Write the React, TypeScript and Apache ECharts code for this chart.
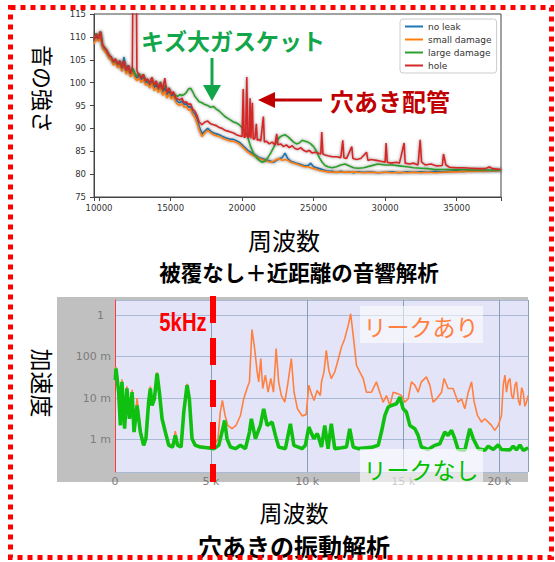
import React, { useEffect, useRef } from 'react';
import * as echarts from 'echarts';

// ---------- Top chart: acoustic analysis (frequency Hz vs sound level) ----------
const topFreq = [
  9650, 9800, 9950, 10100, 10250, 10400, 10550, 10700, 10850, 11000,
  11150, 11300, 11450, 11600, 11750, 11900, 12050, 12200, 12350, 12500,
  12650, 12800, 12950, 13100, 13250, 13400, 13550, 13700, 13850, 14000,
  14150, 14300, 14450, 14600, 14750, 14900, 15050, 15200, 15350, 15500,
  15650, 15800, 15950, 16100, 16250, 16400, 16550, 16700, 16850, 17000,
  17200, 17400, 17600, 17800, 18000, 18200, 18400, 18600, 18800, 19000,
  19200, 19400, 19600, 19800, 20000, 20200, 20400, 20600, 20800, 21000,
  21200, 21400, 21600, 21800, 22000, 22200, 22400, 22600, 22800, 23000,
  23200, 23400, 23600, 23800, 24000, 24200, 24400, 24600, 24800, 25000,
  25200, 25400, 25600, 25800, 26000, 26300, 26600, 26900, 27200, 27500,
  27800, 28100, 28500, 29000, 29500, 30000, 30500, 31000, 31500, 32000,
  32500, 33000, 33500, 34000, 34500, 35000, 35500, 36000, 37000, 38100,
];

const noLeakLevel = [
  109.0, 110.2, 109.5, 111.0, 108.0, 107.4, 106.9, 105.8, 105.6, 104.4,
  105.0, 103.8, 104.6, 103.0, 105.6, 102.4, 103.8, 101.8, 103.0, 101.6,
  101.0, 101.6, 100.6, 101.4, 100.0, 100.4, 99.4, 100.6, 98.8, 99.6,
  98.4, 99.6, 97.8, 98.8, 97.2, 98.2, 97.0, 97.6, 96.4, 95.8,
  95.6, 96.0, 95.2, 95.4, 94.6, 94.8, 93.6, 93.2, 92.2, 90.4,
  88.8, 89.4, 90.0, 89.4, 89.0, 88.8, 88.6, 88.3, 88.0, 87.8,
  87.6, 87.6, 87.3, 87.0, 86.4, 85.8, 85.2, 84.8, 84.4, 84.0,
  83.6, 83.4, 83.2, 83.0, 82.8, 82.6, 83.0, 83.4, 83.6, 84.6,
  83.4, 82.8, 82.6, 82.4, 82.2, 82.0, 81.8, 81.8, 82.4, 81.6,
  81.4, 81.2, 81.0, 80.8, 80.6, 80.6, 80.4, 80.6, 80.4, 80.5,
  80.3, 80.5, 80.4, 80.5, 80.3, 80.4, 80.5, 80.3, 80.5, 80.4,
  80.5, 80.4, 80.6, 80.5, 80.6, 80.7, 80.6, 80.8, 80.7, 80.8,
];

const smallDamageLevel = [
  108.4, 109.6, 109.0, 110.4, 107.4, 106.8, 106.2, 105.2, 105.0, 103.8,
  104.4, 103.2, 104.0, 102.4, 104.6, 101.8, 103.0, 101.2, 102.4, 101.0,
  100.4, 101.0, 100.0, 100.8, 99.4, 99.8, 98.8, 100.0, 98.2, 99.0,
  97.8, 99.0, 97.2, 98.2, 96.6, 97.6, 96.4, 97.0, 95.8, 95.2,
  95.0, 95.4, 94.6, 94.8, 94.0, 94.2, 93.0, 92.4, 91.2, 89.6,
  88.2, 89.0, 89.6, 89.0, 88.6, 88.4, 88.2, 87.9, 87.6, 87.4,
  87.2, 87.2, 86.9, 86.6, 86.0, 85.4, 84.8, 84.4, 84.0, 83.8,
  83.4, 83.2, 83.0, 82.8, 82.6, 82.8, 83.2, 83.4, 83.0, 83.2,
  83.0, 82.6, 82.4, 82.2, 82.0, 81.8, 81.6, 81.6, 81.4, 81.2,
  81.0, 80.8, 80.7, 80.6, 80.5, 80.4, 80.5, 80.4, 80.5, 80.4,
  80.5, 80.4, 80.3, 80.4, 80.3, 80.4, 80.3, 80.4, 80.3, 80.4,
  80.3, 80.4, 80.3, 80.4, 80.5, 80.5, 80.6, 80.6, 80.7, 80.8,
];

const largeDamageLevel = [
  109.6, 110.8, 109.8, 111.2, 108.2, 107.6, 107.0, 106.0, 105.6, 104.6,
  105.0, 104.0, 104.8, 103.2, 104.4, 102.8, 103.6, 102.0, 103.2, 102.2,
  101.4, 102.0, 101.2, 101.8, 100.6, 100.6, 99.8, 101.0, 99.6, 100.0,
  99.0, 100.2, 98.6, 99.4, 98.2, 98.8, 97.6, 97.8, 97.2, 97.0,
  97.4, 97.2, 97.4, 97.8, 98.6, 98.8, 98.0, 97.0, 96.4, 95.8,
  95.6, 95.2, 95.0, 94.6, 94.8, 94.2, 93.8, 93.2, 92.6, 92.2,
  91.8, 91.4, 91.2, 90.8, 90.2, 89.4, 88.0, 86.0, 84.6, 83.6,
  83.0, 82.6, 82.8, 83.6, 84.6, 85.8, 87.0, 88.0, 88.4, 88.6,
  88.2, 87.6, 87.0, 86.6, 86.8, 87.4, 87.2, 87.0, 86.6, 86.0,
  85.0, 83.6, 82.6, 81.9, 81.6, 81.4, 81.6, 82.0, 82.2, 81.8,
  81.4, 81.3, 81.4, 81.8, 82.2, 82.0, 82.0, 81.8, 81.6, 81.4,
  81.3, 81.2, 81.0, 81.0, 81.0, 81.0, 81.0, 80.9, 80.9, 80.9,
];

// hole series has its own frequency points because of narrow resonance spikes
const holePoints: [number, number][] = [
  [9650, 109.4], [9800, 110.6], [9950, 109.6], [10100, 111.2], [10250, 108.2], [10400, 107.6], [10550, 107.0], [10700, 106.0], [10850, 105.6], [11000, 104.6],
  [11150, 105.2], [11300, 104.0], [11450, 104.8], [11600, 103.2], [11750, 104.8], [11900, 102.6], [12050, 103.8], [12200, 102.0], [12330, 103.4], [12360, 117], [12620, 117], [12650, 102.6],
  [12800, 101.6], [12950, 101.0], [13100, 101.8], [13250, 100.4], [13400, 100.8], [13550, 99.8], [13700, 101.2], [13850, 99.4], [14000, 100.4],
  [14150, 98.8], [14300, 100.0], [14450, 98.4], [14600, 101.0], [14750, 97.8], [14900, 98.8], [15050, 97.4], [15200, 98.0], [15350, 96.8], [15500, 96.4],
  [15650, 96.2], [15800, 96.6], [15950, 95.6], [16100, 95.8], [16250, 95.2], [16400, 95.4], [16550, 94.2], [16700, 93.8], [16850, 92.8], [17000, 91.4],
  [17200, 90.8], [17400, 91.4], [17600, 91.6], [17800, 91.0], [18000, 90.8], [18200, 90.6], [18400, 90.2], [18600, 90.0], [18800, 89.6], [19000, 89.4],
  [19200, 89.2], [19400, 89.0], [19600, 88.6], [19800, 88.4], [20000, 88.2], [20080, 98.6], [20140, 88.0], [20250, 88.2], [20330, 101.2], [20400, 88.0],
  [20500, 88.2], [20560, 96.6], [20620, 87.8], [20720, 95.6], [20780, 87.6], [20900, 87.8], [21000, 91.0], [21060, 87.4], [21200, 87.6], [21300, 87.2],
  [21490, 92.6], [21560, 87.0], [21700, 87.2], [21900, 86.6], [22100, 87.0], [22300, 86.4], [22420, 88.8], [22500, 86.4], [22700, 86.6], [22900, 86.0],
  [23100, 86.4], [23300, 85.8], [23500, 86.2], [23700, 85.6], [23900, 85.4], [24100, 85.8], [24300, 85.2], [24500, 84.9], [24700, 85.2], [24900, 84.6],
  [25100, 84.8], [25300, 84.6], [25500, 84.4], [25570, 89.2], [25650, 84.4], [25800, 84.2], [26000, 84.0], [26300, 83.8], [26600, 83.8], [26900, 83.6],
  [27040, 87.4], [27120, 83.6], [27300, 83.4], [27670, 86.0], [27750, 83.4], [28000, 83.2], [28300, 83.4], [28700, 84.8], [28800, 83.0], [29000, 83.2],
  [29400, 83.0], [29700, 82.8], [30000, 82.6], [30070, 86.8], [30150, 82.6], [30400, 82.4], [30800, 82.6], [31000, 82.4], [31330, 86.8], [31400, 82.4],
  [31700, 82.2], [32000, 82.4], [32300, 82.0], [32450, 87.5], [32550, 82.6], [32800, 82.0], [33200, 82.2], [33600, 81.8], [34000, 81.9], [34080, 84.4],
  [34250, 82.0], [34500, 81.5], [35000, 81.4], [35500, 81.4], [36000, 81.3], [36500, 81.2], [37000, 81.2], [37300, 81.6], [37500, 81.2], [38100, 81.0],
];

const topSeriesNames = ['no leak', 'small damage', 'large damage', 'hole'];
const topColors = ['#1f77b4', '#ff7f0e', '#2ca02c', '#d62728'];

// ---------- Bottom chart: vibration analysis (kHz vs log10 of acceleration) ----------
const leakVibLog10: [number, number][] = [
  [0.02, -1.5], [0.05, -1.25], [0.19, -1.8], [0.28, -2.6], [0.36, -1.55], [0.5, -2.7], [0.62, -1.72], [0.75, -2.45], [0.89, -1.8], [0.99, -2.75],
  [1.15, -2.0], [1.32, -2.75], [1.49, -3.1], [1.61, -2.95], [1.75, -2.05], [1.84, -1.72], [1.93, -2.12], [2.05, -1.98], [2.19, -1.38], [2.31, -1.82],
  [2.45, -2.45], [2.62, -2.78], [2.8, -3.1], [3.0, -3.15], [3.14, -2.8], [3.26, -3.1], [3.44, -3.15], [3.58, -2.3], [3.75, -1.66], [3.87, -2.0],
  [4.01, -2.95], [4.18, -3.12], [4.44, -3.16], [4.79, -3.18], [5.0, -3.17], [5.14, -3.18], [5.36, -2.98], [5.48, -2.34], [5.59, -2.06], [5.73, -2.42],
  [5.87, -2.66], [6.09, -2.74], [6.3, -2.66], [6.53, -2.42], [6.7, -2.02], [6.87, -1.77], [7.0, -1.61], [7.13, -0.35], [7.27, -0.81], [7.4, -1.37],
  [7.48, -1.61], [7.59, -1.05], [7.69, -1.77], [7.83, -1.45], [7.97, -1.86], [8.11, -1.53], [8.25, -1.86], [8.39, -0.81], [8.52, -1.61], [8.66, -1.94],
  [8.84, -2.1], [9.01, -1.61], [9.18, -1.05], [9.32, -1.86], [9.5, -2.26], [9.74, -2.43], [9.95, -2.4], [10.09, -1.69], [10.23, -1.9], [10.36, -2.06],
  [10.52, -1.82], [10.69, -1.94], [10.75, -1.61], [10.88, -1.37], [11.0, -0.85], [11.13, -1.33], [11.26, -1.53], [11.44, -1.37], [11.61, -1.09], [11.79, -0.77],
  [11.96, -0.57], [12.14, -0.25], [12.27, 0.03], [12.4, -0.49], [12.57, -1.21], [12.74, -1.37], [12.92, -1.53], [13.09, -1.86], [13.35, -1.86], [13.61, -1.61],
  [13.78, -1.86], [13.96, -2.1], [14.13, -1.94], [14.31, -2.18], [14.48, -1.86], [14.74, -1.9], [14.91, -1.94], [15.09, -2.1], [15.26, -2.02], [15.43, -1.61],
  [15.61, -1.69], [15.78, -1.86], [15.95, -1.61], [16.21, -1.49], [16.39, -1.69], [16.56, -2.1], [16.74, -2.02], [17.0, -1.86], [17.13, -1.53], [17.34, -1.77],
  [17.6, -1.77], [17.86, -2.1], [18.04, -2.02], [18.21, -2.26], [18.39, -1.86], [18.56, -1.61], [18.7, -2.1], [18.87, -2.42], [19.08, -2.58], [19.25, -2.5],
  [19.43, -2.58], [19.6, -2.66], [19.77, -2.78], [19.95, -2.66], [20.12, -2.42], [20.21, -1.69], [20.3, -1.45], [20.38, -1.86], [20.47, -1.6], [20.56, -1.53],
  [20.65, -1.95], [20.73, -2.02], [20.82, -1.7], [20.9, -1.61], [21.0, -2.05], [21.08, -2.18], [21.17, -1.75], [21.25, -1.86], [21.34, -2.2], [21.42, -2.1], [21.51, -1.94],
];

const noLeakVibLog10: [number, number][] = [
  [0.02, -1.57], [0.05, -1.29], [0.19, -1.86], [0.28, -2.66], [0.36, -1.61], [0.5, -2.74], [0.62, -1.77], [0.75, -2.5], [0.89, -1.86], [0.99, -2.82],
  [1.15, -2.18], [1.32, -2.82], [1.49, -3.14], [1.61, -2.98], [1.75, -2.1], [1.84, -1.77], [1.93, -2.18], [2.05, -2.02], [2.19, -1.41], [2.31, -1.86],
  [2.45, -2.5], [2.62, -2.82], [2.8, -3.14], [3.0, -3.18], [3.14, -2.9], [3.26, -3.14], [3.44, -3.18], [3.58, -2.34], [3.75, -1.69], [3.87, -2.02],
  [4.01, -2.98], [4.18, -3.14], [4.44, -3.18], [4.79, -3.2], [5.14, -3.22], [5.4, -3.14], [5.57, -2.82], [5.71, -2.54], [5.83, -2.98], [6.01, -3.18],
  [6.27, -3.22], [6.53, -3.14], [6.79, -3.22], [7.0, -2.82], [7.1, -2.5], [7.31, -2.98], [7.57, -2.66], [7.74, -2.26], [7.92, -2.66], [8.18, -2.58],
  [8.35, -2.9], [8.52, -3.18], [8.87, -3.22], [9.13, -2.62], [9.31, -3.14], [9.74, -3.22], [9.91, -3.14], [10.09, -2.7], [10.35, -2.98], [10.52, -2.86],
  [10.57, -2.9], [10.75, -3.18], [10.92, -2.66], [11.09, -3.22], [11.26, -2.62], [11.44, -3.22], [11.79, -3.2], [12.05, -3.18], [12.22, -2.74], [12.4, -3.18],
  [12.66, -3.22], [13.35, -3.19], [13.7, -3.14], [13.87, -2.82], [14.05, -2.42], [14.22, -2.22], [14.39, -2.18], [14.65, -2.14], [14.83, -1.98], [15.0, -2.26],
  [15.17, -2.34], [15.35, -2.66], [15.61, -2.74], [15.78, -2.9], [15.95, -3.18], [16.3, -3.24], [16.65, -3.14], [16.91, -3.1], [17.17, -2.82], [17.34, -2.9],
  [17.52, -2.78], [17.69, -2.98], [17.86, -3.24], [18.21, -3.26], [18.47, -2.74], [18.65, -2.98], [18.91, -3.22], [19.25, -3.26], [19.43, -3.16], [19.69, -3.24],
  [19.95, -3.13], [20.12, -3.24], [20.56, -3.25], [20.73, -3.16], [20.9, -3.25], [21.08, -3.13], [21.25, -3.26], [21.51, -3.2],
];

const vibTickLabels: Record<string, string> = { '0': '{one|1}', '-1': '100 m', '-2': '10 m', '-3': '1 m' };

const CJK = "'Noto Sans CJK JP', sans-serif";

function buildOption(): any {
  const topLevels = [noLeakLevel, smallDamageLevel, largeDamageLevel];
  const halo = { shadowColor: 'rgba(60,60,60,0.6)', shadowBlur: 3 };
  const topSeries: any[] = topLevels.map((lv, i) => ({
    name: topSeriesNames[i],
    type: 'line',
    xAxisIndex: 0,
    yAxisIndex: 0,
    symbol: 'none',
    data: topFreq.map((f, j) => [f, lv[j]]),
    lineStyle: { width: 1.6, color: topColors[i], ...halo },
    itemStyle: { color: topColors[i] },
    z: 2 + i,
  }));
  topSeries.push({
    name: topSeriesNames[3],
    type: 'line',
    xAxisIndex: 0,
    yAxisIndex: 0,
    symbol: 'none',
    data: holePoints,
    lineStyle: { width: 1.6, color: topColors[3], ...halo },
    itemStyle: { color: topColors[3] },
    z: 6,
  });

  const text = (t: string, x: number, y: number, size: number, fill: string, bold = false, extra: any = {}) => ({
    type: 'text',
    x,
    y,
    z: 100,
    ...extra,
    style: {
      text: t,
      fontSize: size,
      fontWeight: bold ? 'bold' : 'normal',
      fontFamily: CJK,
      fill,
      align: 'center',
      verticalAlign: 'middle',
      textAlign: 'center',
      textVerticalAlign: 'middle',
    },
  });

  const green = '#12a64b';
  const darkRed = '#c00000';

  return {
    animation: false,
    backgroundColor: '#ffffff',
    grid: [
      { left: 94, top: 14, width: 407, height: 183, show: true, borderColor: '#444', borderWidth: 1, backgroundColor: 'transparent' },
      { left: 115, top: 300, width: 413, height: 172, show: false },
    ],
    legend: {
      data: topSeriesNames,
      orient: 'vertical',
      left: 400,
      top: 19,
      icon: 'rect',
      itemWidth: 18,
      itemHeight: 2,
      itemGap: 4,
      padding: [3, 5, 3, 5],
      backgroundColor: '#ffffff',
      borderColor: '#cccccc',
      borderWidth: 1,
      borderRadius: 3,
      textStyle: { fontSize: 9, color: '#333', fontFamily: 'DejaVu Sans' },
      selectedMode: false,
    },
    xAxis: [
      {
        gridIndex: 0,
        type: 'value',
        min: 9650,
        max: 38100,
        axisLine: { show: true, lineStyle: { color: '#444' } },
        axisTick: { show: true, length: 4, lineStyle: { color: '#444' } },
        axisLabel: {
          color: '#333',
          fontSize: 8.5,
          fontFamily: 'DejaVu Sans',
          margin: 6,
          formatter: (v: number) => (v % 5000 === 0 ? String(v) : ''),
        },
        splitLine: { show: false },
      },
      {
        gridIndex: 1,
        type: 'value',
        min: 0,
        max: 21.5,
        interval: 5,
        axisLine: { show: false },
        axisTick: { show: false },
        axisLabel: {
          color: '#7c7c7c',
          fontSize: 11,
          fontFamily: 'DejaVu Sans',
          margin: 4,
          formatter: (v: number) => (v === 0 ? '0' : v % 5 === 0 ? v + ' k' : ''),
        },
        splitLine: { show: true, lineStyle: { color: '#86a2b2', width: 1 } },
      },
    ],
    yAxis: [
      {
        gridIndex: 0,
        type: 'value',
        min: 75,
        max: 115,
        interval: 5,
        axisLine: { show: true, lineStyle: { color: '#444' } },
        axisTick: { show: true, length: 4, lineStyle: { color: '#444' } },
        axisLabel: { color: '#333', fontSize: 8.5, fontFamily: 'DejaVu Sans', margin: 8 },
        splitLine: { show: false },
      },
      {
        gridIndex: 1,
        type: 'log',
        logBase: 10,
        min: 1.65e-4,
        max: 2.3,
        axisLine: { show: true, lineStyle: { color: '#ff3b3b', width: 1 } },
        axisTick: { show: false },
        axisLabel: {
          color: '#7c7c7c',
          fontSize: 11,
          fontFamily: 'DejaVu Sans',
          margin: 4,
          formatter: (v: number) => {
            const l = Math.log10(v);
            const r = Math.round(l);
            if (Math.abs(l - r) > 0.01) return '';
            return vibTickLabels[String(r === 0 ? 0 : r)] || '';
          },
          rich: { one: { color: '#7c7c7c', fontSize: 11, fontFamily: 'DejaVu Sans', padding: [0, 7, 0, 0] } },
        },
        splitLine: { show: true, lineStyle: { color: '#a9bad4', width: 1 } },
      },
    ],
    series: [
      ...topSeries,
      {
        name: 'リークあり',
        type: 'line',
        xAxisIndex: 1,
        yAxisIndex: 1,
        symbol: 'none',
        data: leakVibLog10.map(([f, l]) => [f, Math.pow(10, l)]),
        lineStyle: { width: 1.6, color: '#ff8040' },
        z: 3,
      },
      {
        name: 'リークなし',
        type: 'line',
        xAxisIndex: 1,
        yAxisIndex: 1,
        symbol: 'none',
        data: noLeakVibLog10.map(([f, l]) => [f, Math.pow(10, l)]),
        lineStyle: { width: 3.6, color: '#10c010' },
        z: 4,
      },
    ],
    graphic: {
      elements: [
        // bottom chart panel backgrounds
        { type: 'rect', z: -20, shape: { x: 57, y: 297, width: 471, height: 185 }, style: { fill: '#c0c0c0' } },
        { type: 'rect', z: -19, shape: { x: 115, y: 300, width: 413, height: 172 }, style: { fill: '#e4e4f8' } },
        // dotted red frame
        { type: 'rect', z: 200, shape: { x: 10.5, y: 7.5, width: 541, height: 550 }, style: { fill: 'none', stroke: '#ff0000', lineWidth: 5, lineDash: [5, 5] } },
        // top annotations
        text('キズ大ガスケット', 233, 40, 23, green, true),
        { type: 'line', z: 100, shape: { x1: 212, y1: 58, x2: 212, y2: 88 }, style: { stroke: green, lineWidth: 3 } },
        { type: 'polygon', z: 100, shape: { points: [[203, 85], [221, 85], [212, 101]] }, style: { fill: green } },
        text('穴あき配管', 390, 100, 24, darkRed, true),
        { type: 'line', z: 100, shape: { x1: 322, y1: 100, x2: 270, y2: 100 }, style: { stroke: darkRed, lineWidth: 3 } },
        { type: 'polygon', z: 100, shape: { points: [[258, 100], [275, 92], [275, 108]] }, style: { fill: darkRed } },
        text('音の強さ', 44, 89, 22, '#000', false, { rotation: -Math.PI / 2 }),
        text('周波数', 284, 239, 24, '#000'),
        text('被覆なし＋近距離の音響解析', 299, 271, 21.5, '#000', true),
        // bottom annotations
        { type: 'line', z: 90, shape: { x1: 213, y1: 296, x2: 213, y2: 482 }, style: { stroke: '#ff0000', lineWidth: 6, lineDash: [27, 15] } },
        {
          type: 'text', x: 183, y: 322, z: 100, scaleX: 0.78,
          style: { text: '5kHz', fontSize: 26, fontWeight: 'bold', fontFamily: "'Liberation Sans', Arial, sans-serif", fill: '#ff0000', align: 'center', verticalAlign: 'middle', textAlign: 'center', textVerticalAlign: 'middle' },
        },
        { type: 'rect', z: 95, shape: { x: 360, y: 306, width: 123, height: 37 }, style: { fill: 'rgba(255,255,255,0.55)' } },
        text('リークあり', 421, 326, 23, '#ff8040'),
        { type: 'rect', z: 95, shape: { x: 360, y: 449, width: 123, height: 37 }, style: { fill: 'rgba(255,255,255,0.6)' } },
        text('リークなし', 421, 469, 23, '#00c000'),
        text('加速度', 43, 383, 23, '#000', false, { rotation: -Math.PI / 2 }),
        text('周波数', 294, 512, 23, '#000'),
        text('穴あきの振動解析', 294, 545, 24, '#000', true),
      ],
    },
  };
}

export default function App() {
  const ref = useRef<HTMLDivElement>(null);
  useEffect(() => {
    if (!ref.current) return;
    const chart = echarts.init(ref.current, null, { renderer: 'svg' });
    chart.setOption(buildOption());
    return () => chart.dispose();
  }, []);
  return (
    <div
      ref={ref}
      style={{ position: 'fixed', left: 0, top: 0, width: 555, height: 562, background: '#ffffff' }}
    />
  );
}
